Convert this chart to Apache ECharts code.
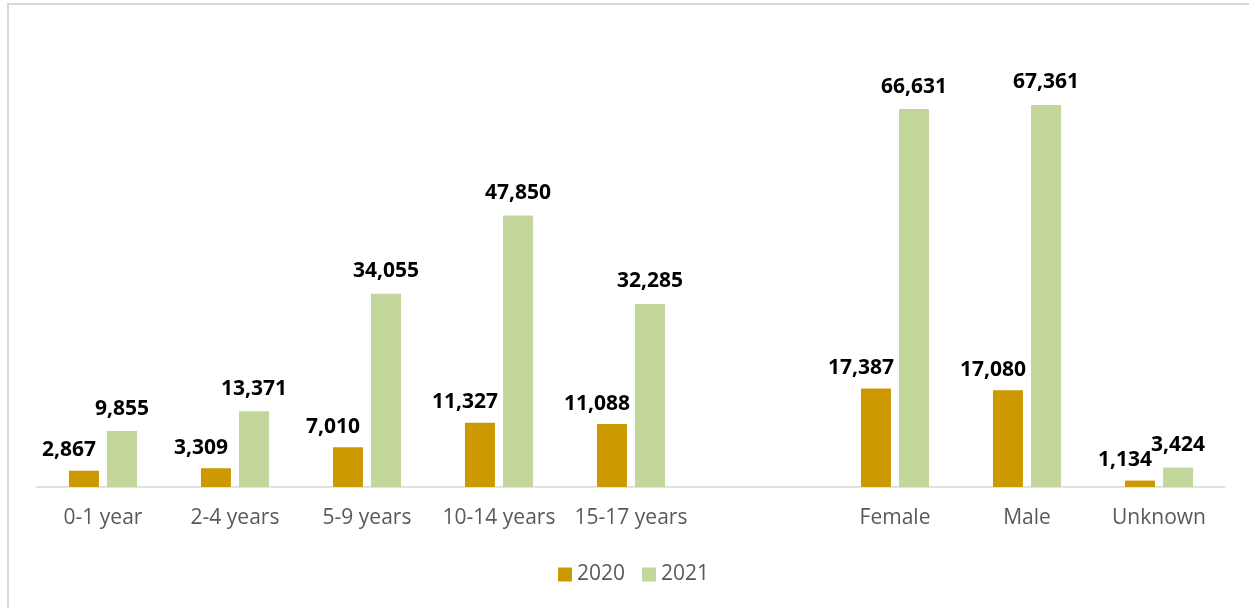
<!DOCTYPE html>
<html>
<head>
<meta charset="utf-8">
<script src="https://cdn.jsdelivr.net/npm/echarts@6/dist/echarts.min.js"></script>
<style>
html,body{margin:0;padding:0;background:#fff;}
#chart{width:1249px;height:608px;}
</style>
</head>
<body>
<div id="chart"></div>
<script>
const categories = ['0-1 year', '2-4 years', '5-9 years', '10-14 years', '15-17 years', '', 'Female', 'Male', 'Unknown'];
const values2020 = [2867, 3309, 7010, 11327, 11088, null, 17387, 17080, 1134];
const values2021 = [9855, 13371, 34055, 47850, 32285, null, 66631, 67361, 3424];
const seriesNames = ['2020', '2021'];

const chart = echarts.init(document.getElementById('chart'));
const fmt = p => p.value == null ? '' : p.value.toLocaleString('en-US');
const labelStyle = {
  show: true, position: 'top', formatter: fmt,
  color: '#000', fontWeight: 'bold', fontSize: 21, fontFamily: 'Open Sans'
};
chart.setOption({
  animation: false,
  graphic: [{
    type: 'rect', shape: {x: 8, y: 4, width: 1400, height: 800},
    style: {fill: 'none', stroke: '#d9d9d9', lineWidth: 2}, silent: true
  }],
  grid: {left: 37, right: 24, top: 90, bottom: 121},
  legend: {
    data: seriesNames, bottom: 18, left: 553,
    itemWidth: 14, itemHeight: 14, itemGap: 17,
    icon: 'rect',
    textStyle: {color: '#595959', fontSize: 21, fontFamily: 'Open Sans'}
  },
  xAxis: {
    type: 'category', data: categories,
    axisLine: {lineStyle: {color: '#d9d9d9', width: 1.5}},
    axisTick: {show: false},
    axisLabel: {color: '#595959', fontSize: 21, fontFamily: 'Open Sans', margin: 21, interval: 0}
  },
  yAxis: {
    type: 'value', min: 0, max: 70000,
    show: false, splitLine: {show: false}
  },
  series: [
    {
      name: seriesNames[0], type: 'bar', data: values2020,
      barWidth: 30, barGap: '27%',
      itemStyle: {color: '#CC9A00'},
      label: Object.assign({}, labelStyle, {offset: [-15, -5]})
    },
    {
      name: seriesNames[1], type: 'bar', data: values2021,
      barWidth: 30,
      itemStyle: {color: '#C3D69B'},
      label: Object.assign({}, labelStyle, {offset: [0, -7]})
    }
  ]
});
</script>
</body>
</html>
